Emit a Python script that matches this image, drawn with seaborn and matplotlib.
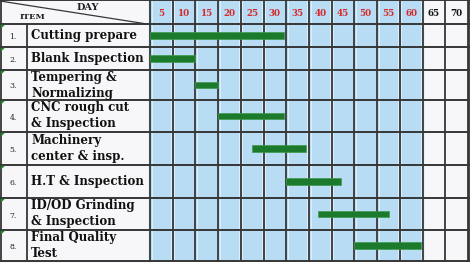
import matplotlib
matplotlib.use("Agg")
import matplotlib.pyplot as plt
import seaborn as sns
import pandas as pd

# ---- data ----
tasks = ["Cutting prepare", "Blank Inspection", "Tempering &\nNormalizing",
         "CNC rough cut\n& Inspection", "Machinery\ncenter & insp.",
         "H.T & Inspection", "ID/OD Grinding\n& Inspection", "Final Quality\nTest"]
numbers = ["1.", "2.", "3.", "4.", "5.", "6.", "7.", "8."]
start_day = [0, 0, 10, 15, 22.5, 30, 37, 44.8]
end_day = [29.5, 10, 15, 29.5, 34.3, 42, 52.5, 59.6]
day_ticks = [5, 10, 15, 20, 25, 30, 35, 40, 45, 50, 55, 60, 65, 70]
plan_end = 60

df = pd.DataFrame({"task": tasks, "num": numbers, "start": start_day, "end": end_day})
df["dur"] = df["end"] - df["start"]

# ---- layout (pixels) ----
W, H = 470, 263
X0 = 150.0
PPD = (468 - 150) / 70.0   # px per day
row_edges = [0, 24, 47, 70, 100, 132, 165, 198, 230, 261]
NUM_COL = 27


def px(x):
    return (x - X0) / PPD

sns.set_theme(style="white")
plt.rcParams["font.family"] = ["DejaVu Serif"]

fig = plt.figure(figsize=(W / 100, H / 100), dpi=100)
ax = fig.add_axes([0, 0, 1, 1])
ax.set_xlim(px(0), px(W))
ax.set_ylim(H, 0)
ax.axis("off")

blue = "#b7dcf3"
white = "#f7f7fa"
grid = "#363636"
green = "#1c7a2c"

# backgrounds
ax.add_patch(plt.Rectangle((px(0), 0), px(X0) - px(0), H, color=white, lw=0, zorder=0))
ax.add_patch(plt.Rectangle((0, 0), plan_end, row_edges[-1], color=blue, lw=0, zorder=0))
ax.add_patch(plt.Rectangle((plan_end, 0), px(W) - plan_end, row_edges[-1], color=white, lw=0, zorder=0))

# light inner cell edges
for d in range(0, plan_end + 1, 5):
    for off in (-0.35, 0.35):
        ax.plot([d + off, d + off], [0, row_edges[-1]], color="#e4f2fb", lw=0.6, zorder=1)

# grid lines
for y in row_edges:
    ax.plot([px(0), px(W)], [y, y], color=grid, lw=1.4, zorder=2)
for d in range(0, 71, 5):
    ax.plot([d, d], [0, row_edges[-1]], color=grid, lw=1.3, zorder=2)
ax.plot([px(NUM_COL), px(NUM_COL)], [row_edges[1], row_edges[-1]], color=grid, lw=1.3, zorder=2)
ax.plot([px(0.5), px(0.5)], [0, row_edges[-1]], color=grid, lw=1.3, zorder=2)
ax.plot([px(W - 1), px(W - 1)], [0, row_edges[-1]], color=grid, lw=1.3, zorder=2)
# header diagonal
ax.plot([px(0), px(147)], [1, 24], color=grid, lw=0.9, zorder=2)

# header text
ax.text(px(88), 8, "DAY", ha="center", va="center", fontsize=7, fontweight="bold", color="#222222")
ax.text(px(33), 17, "ITEM", ha="center", va="center", fontsize=6, fontweight="bold", color="#222222")
for d in day_ticks:
    ax.text(d - 2.5, 13, str(d), ha="center", va="center", fontsize=6.3, fontweight="bold",
            color="#d42a2a" if d <= plan_end else "#111111")

# rows
for i, r in df.iterrows():
    top, bot = row_edges[i + 1], row_edges[i + 2]
    cy = (top + bot) / 2
    ax.text(px(13), cy + 1.5, r["num"], ha="center", va="center", fontsize=5.5, color="#222222")
    ax.text(px(31), cy, r["task"], ha="left", va="center", fontsize=8.5, fontweight="bold",
            color="#111111", linespacing=1.3)
    ax.add_patch(plt.Polygon([[px(1), top + 0.8], [px(5), top + 0.8], [px(1), top + 4.5]],
                             color="#1a8a2a", lw=0, zorder=3))
    ax.barh(cy, r["dur"], left=r["start"], height=6.8, color=green,
            edgecolor="#3d9a4a", linewidth=0.5, zorder=4)

fig.savefig("out.png", dpi=100)
